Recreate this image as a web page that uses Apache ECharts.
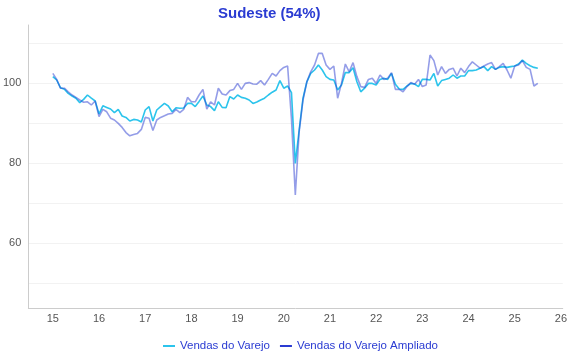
<!DOCTYPE html>
<html>
<head>
<meta charset="utf-8">
<script src="https://cdn.jsdelivr.net/npm/echarts@6/dist/echarts.min.js"></script>
<style>html,body{margin:0;padding:0;background:#fff}#c{width:570px;height:360px}</style>
</head>
<body>
<div id="c"></div>
<script>
// Monthly index, Jan 2015 .. Jul 2025
var startYear = 15;
var seriesNames = ['Vendas do Varejo', 'Vendas do Varejo Ampliado'];
var yLabels = [60, 80, 100];
var xLabels = [15, 16, 17, 18, 19, 20, 21, 22, 23, 24, 25, 26];
var varejo = [
  101.6, 100.75, 98.8, 98.45, 97.4, 96.75, 96.2, 95.1, 95.9, 97.0, 96.2, 95.5,
  92.25, 94.3, 93.9, 93.5, 92.6, 93.4, 91.75, 91.4, 90.5, 90.9, 90.75, 90.25,
  93.25, 94.1, 90.5, 93.25, 94.1, 94.9, 94.25, 92.8, 93.8, 93.7, 93.75, 94.9,
  94.9, 94.1, 95.4, 96.75, 94.5, 94.1, 93.1, 95.3, 93.9, 93.8, 96.6, 96.0,
  97.0, 96.4, 96.2, 95.75, 94.9, 95.25, 95.75, 96.2, 97.0, 97.7, 98.25, 100.6,
  98.7, 99.25, 97.6, 79.9, 88.25, 96.2, 100.3, 102.4, 103.25, 104.5, 103.25, 101.6,
  100.9, 100.75, 98.25, 99.5, 102.6, 102.6, 103.8, 100.3, 97.8, 98.7, 99.9, 99.9,
  99.5, 100.9, 101.2, 100.9, 102.4, 99.7, 98.5, 98.4, 99.25, 99.9, 99.75, 99.1,
  100.9, 100.9, 100.75, 102.4, 99.25, 100.6, 100.9, 101.2, 102.0, 101.2, 101.75, 101.75,
  103.1, 103.1, 103.25, 103.7, 104.1, 103.1, 104.1, 103.4, 103.9, 104.1, 103.9, 104.1,
  104.25, 104.75, 105.75, 104.9, 104.3, 103.9, 103.7
];
var ampliado = [
  102.4, 100.9, 98.7, 98.7, 97.8, 97.0, 96.4, 95.75, 95.2, 95.3, 94.5, 95.5,
  91.6, 93.4, 92.8, 91.2, 90.75, 89.9, 88.9, 87.6, 86.8, 87.1, 87.4, 88.4,
  91.4, 91.2, 88.1, 90.75, 91.4, 91.8, 92.25, 92.4, 93.4, 92.6, 93.4, 96.4,
  95.3, 95.3, 97.0, 98.4, 93.5, 95.3, 94.5, 98.7, 97.25, 97.0, 98.1, 98.4,
  99.9, 98.4, 99.9, 100.1, 99.75, 99.7, 100.6, 99.5, 100.9, 102.4, 101.75, 103.1,
  103.9, 104.25, 91.0, 72.0, 87.8, 95.75, 100.3, 102.8, 104.5, 107.4, 107.4, 104.5,
  103.4, 104.25, 96.2, 99.9, 104.75, 102.8, 105.1, 101.6, 99.1, 98.9, 100.9, 101.2,
  99.9, 102.0, 100.9, 101.2, 102.6, 98.4, 98.4, 97.8, 99.1, 100.1, 99.7, 100.9,
  99.1, 99.5, 107.0, 105.6, 102.0, 104.1, 102.4, 103.4, 103.7, 101.75, 103.7, 102.6,
  104.1, 105.3, 104.5, 103.7, 104.25, 104.75, 105.1, 103.4, 104.1, 104.9, 103.25, 101.2,
  104.25, 104.5, 105.6, 103.9, 103.4, 99.25, 99.9
];

function toPairs(arr) {
  return arr.map(function (v, i) { return [startYear + i / 12, v]; });
}
function isIn(list, v) {
  for (var i = 0; i < list.length; i++) if (Math.abs(list[i] - v) < 1e-6) return true;
  return false;
}

var chart = echarts.init(document.getElementById('c'), null, {renderer: 'canvas'});
var font = 'Liberation Sans, Arial, Helvetica, sans-serif';
chart.setOption({
  animation: false,
  backgroundColor: '#ffffff',
  title: {
    text: 'Sudeste (54%)',
    left: 213,
    top: 1,
    textStyle: {color: '#2a3bd2', fontSize: 15, fontWeight: 'bold', fontFamily: font}
  },
  legend: {
    bottom: 3,
    left: 158,
    itemWidth: 12,
    itemHeight: 2,
    itemGap: 10,
    textStyle: {color: '#2a3bd2', fontSize: 11.5, fontFamily: font},
    data: [
      {name: seriesNames[0], icon: 'rect', itemStyle: {color: '#2cc4ec'}},
      {name: seriesNames[1], icon: 'rect', itemStyle: {color: '#2a3bd2'}}
    ]
  },
  grid: {left: 27, right: 5, top: 25, bottom: 52, containLabel: false},
  xAxis: {
    type: 'value',
    min: 14.47,
    max: 26.04,
    splitNumber: 12,
    axisLine: {show: true, lineStyle: {color: '#cccccc'}},
    axisTick: {show: false},
    splitLine: {show: false},
    axisLabel: {
      color: '#555', fontSize: 11, fontFamily: font, margin: 5,
      showMinLabel: true, showMaxLabel: true,
      formatter: function (v) { return isIn(xLabels, v) ? String(Math.round(v)) : ''; }
    }
  },
  yAxis: {
    type: 'value',
    min: 43.75,
    max: 114.5,
    splitNumber: 7,
    axisLine: {show: true, lineStyle: {color: '#cccccc'}},
    axisTick: {show: false},
    splitLine: {show: true, showMinLine: false, showMaxLine: false, lineStyle: {color: '#f2f2f2'}},
    axisLabel: {
      color: '#555', fontSize: 11, fontFamily: font, margin: 7,
      formatter: function (v) { return isIn(yLabels, v) ? String(Math.round(v)) : ''; }
    }
  },
  series: [
    {
      name: seriesNames[0], type: 'line', showSymbol: false, symbol: 'none',
      data: toPairs(varejo),
      itemStyle: {color: '#2cc4ec'},
      lineStyle: {color: '#2cc4ec', width: 1.6},
      z: 2
    },
    {
      name: seriesNames[1], type: 'line', showSymbol: false, symbol: 'none',
      data: toPairs(ampliado),
      itemStyle: {color: '#2a3bd2'},
      lineStyle: {color: '#2a3bd2', width: 1.6, opacity: 0.5},
      z: 3
    }
  ]
});
</script>
</body>
</html>
